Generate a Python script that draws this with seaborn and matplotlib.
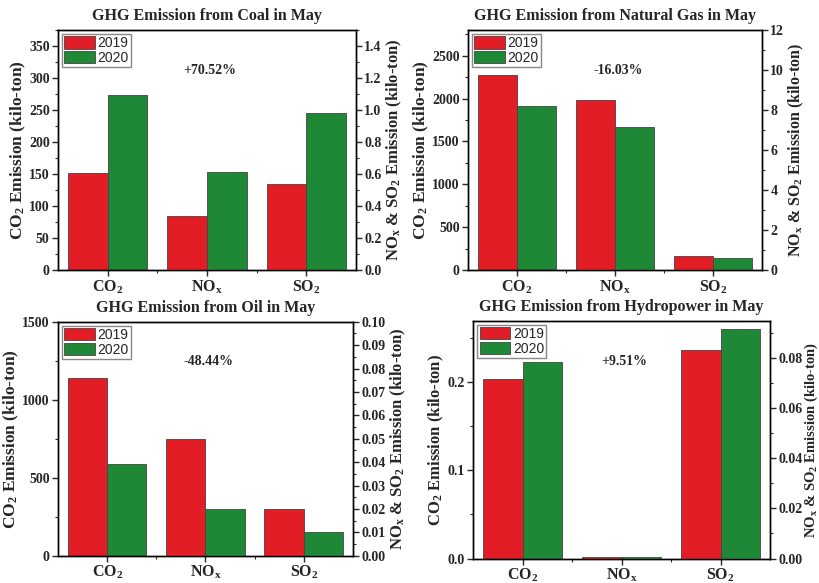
# GHG emission in May, 2019 vs 2020, four sources
import pandas as pd
import matplotlib.pyplot as plt
import seaborn as sns
from matplotlib.ticker import MultipleLocator, FixedLocator, FormatStrFormatter

gases = ["CO2", "NOx", "SO2"]
gas_labels = ["CO$_2$", "NO$_x$", "SO$_2$"]
years = ["2019", "2020"]

# values: CO2 on left axis, NOx & SO2 on right axis (kilo-ton)
coal_2019 = [152, 0.34, 0.54]
coal_2020 = [273, 0.61, 0.98]
gas_2019 = [2278, 8.52, 0.70]
gas_2020 = [1916, 7.14, 0.61]
oil_2019 = [1137, 0.050, 0.020]
oil_2020 = [588, 0.020, 0.010]
hydro_2019 = [0.204, 0.0006, 0.0833]
hydro_2020 = [0.2225, 0.0007, 0.0916]

titles = ["GHG Emission from Coal in May", "GHG Emission from Natural Gas in May",
          "GHG Emission from Oil in May", "GHG Emission from Hydropower in May"]
changes = ["+70.52%", "-16.03%", "-48.44%", "+9.51%"]

sns.set_theme(style="ticks")
plt.rcParams["font.family"] = ["Liberation Serif", "DejaVu Serif"]
plt.rcParams["font.weight"] = "bold"
plt.rcParams["axes.labelweight"] = "bold"
plt.rcParams["axes.titleweight"] = "bold"
plt.rcParams["mathtext.fontset"] = "custom"
plt.rcParams["mathtext.rm"] = "Liberation Serif:bold"
plt.rcParams["mathtext.it"] = "Liberation Serif:bold"
plt.rcParams["mathtext.bf"] = "Liberation Serif:bold"
plt.rcParams["axes.edgecolor"] = "black"
plt.rcParams["axes.linewidth"] = 1.0

pal = {"2019": "#E21D25", "2020": "#1E8836"}

fig = plt.figure(figsize=(8.2, 5.83), dpi=100)

positions = [
    [0.0707, 0.5369, 0.3634, 0.4117],
    [0.5707, 0.5369, 0.3585, 0.4117],
    [0.0707, 0.0468, 0.3598, 0.4014],
    [0.5772, 0.0420, 0.3618, 0.4079],
]
left_lims = [(0, 375), (0, 2800), (0, 1500), (0, 0.2696)]
right_lims = [(0, 1.5), (0, 12), (0, 0.1), (0, 0.095)]
left_steps = [50, 500, 500, 0.1]
right_steps = [0.2, 2, 0.01, 0.02]
left_fmt = ["%d", "%d", "%d", "%.1f"]
right_fmt = ["%.1f", "%d", "%.2f", "%.2f"]
left_label_size = [12.5, 12.5, 12.5, 12]
right_label_size = [12, 11.5, 12, 10.5]
series = [(coal_2019, coal_2020), (gas_2019, gas_2020),
          (oil_2019, oil_2020), (hydro_2019, hydro_2020)]

for i, (v19, v20) in enumerate(series):
    df = pd.DataFrame({
        "gas": gases * 2,
        "year": [years[0]] * 3 + [years[1]] * 3,
        "value": v19 + v20,
    })
    ax = fig.add_axes(positions[i])
    ax2 = ax.twinx()

    sns.barplot(data=df[df.gas == "CO2"], x="gas", y="value", hue="year",
                order=gases, hue_order=years, palette=pal, errorbar=None,
                saturation=1, width=0.8, edgecolor="#444444", linewidth=0.6,
                ax=ax)
    sns.barplot(data=df[df.gas != "CO2"], x="gas", y="value", hue="year",
                order=gases, hue_order=years, palette=pal, errorbar=None,
                saturation=1, width=0.8, edgecolor="#444444", linewidth=0.6,
                ax=ax2, legend=False)

    ax.set_xlim(-0.5, 2.5)
    ax.set_ylim(*left_lims[i])
    ax2.set_ylim(*right_lims[i])

    ax.yaxis.set_major_locator(MultipleLocator(left_steps[i]))
    ax.yaxis.set_minor_locator(MultipleLocator(left_steps[i] / 2))
    ax.yaxis.set_major_formatter(FormatStrFormatter(left_fmt[i]))
    ax2.yaxis.set_major_locator(MultipleLocator(right_steps[i]))
    ax2.yaxis.set_minor_locator(MultipleLocator(right_steps[i] / 2))
    ax2.yaxis.set_major_formatter(FormatStrFormatter(right_fmt[i]))

    ax.set_xticks(range(3))
    ax.set_xticklabels(gas_labels)
    ax.xaxis.set_minor_locator(FixedLocator([0.5, 1.5]))

    for a in (ax, ax2):
        a.tick_params(which="major", length=4, width=1, labelsize=10, pad=2)
        a.tick_params(which="minor", length=2, width=0.8)
        for s in a.spines.values():
            s.set_visible(True)
            s.set_color("black")
    ax.tick_params(axis="x", labelsize=11.5)

    ax.set_xlabel("")
    ax.set_ylabel("CO$_2$ Emission (kilo-ton)", fontsize=left_label_size[i],
                  labelpad=1)
    ax2.set_ylabel("NO$_x$ & SO$_2$ Emission (kilo-ton)",
                   fontsize=right_label_size[i], labelpad=2 if i < 3 else 0)
    ax.set_title(titles[i], fontsize=11.5, pad=7)

    ax.text(0.51, 0.83, changes[i], transform=ax.transAxes, ha="center",
            va="center", fontsize=10)

    handles, labels = ax.get_legend_handles_labels()
    ax.get_legend().remove()
    ax2.legend(handles, labels, loc="upper left", frameon=True, fancybox=False,
               edgecolor="#888888", framealpha=1,
               prop={"family": "Liberation Sans", "weight": "normal", "size": 10},
               handlelength=2.2, handleheight=1.0, handletextpad=0.2,
               borderpad=0.15, labelspacing=0.05, borderaxespad=0.3)

fig.savefig("out.png", dpi=100)
